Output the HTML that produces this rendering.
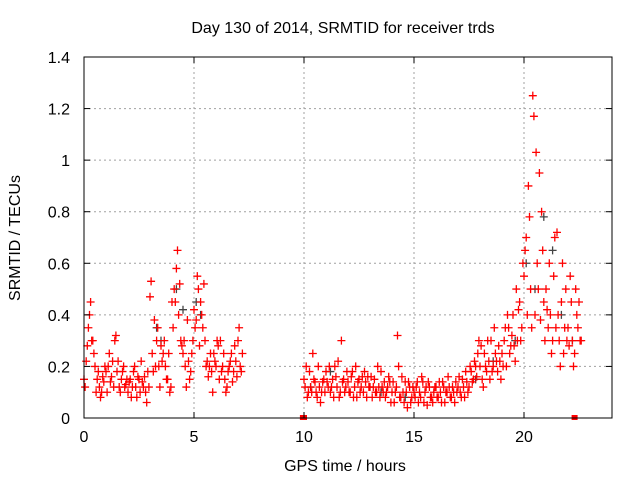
<!DOCTYPE html>
<html><head><meta charset="utf-8"><style>
body{margin:0;background:#fff}
svg{display:block;font-family:"Liberation Sans",sans-serif}
</style></head><body>
<svg id="chart" width="640" height="480">
<rect width="640" height="480" fill="#fff"/>
<text x="343" y="33" font-size="16" text-anchor="middle">Day 130 of 2014, SRMTID for receiver trds</text>
<text x="345" y="471" font-size="16" text-anchor="middle">GPS time / hours</text>
<text transform="translate(20,238) rotate(-90)" font-size="16" text-anchor="middle">SRMTID / TECUs</text>
<g id="grid"></g><g id="marks"></g><g id="axes"></g>
</svg>
<script>
const xTicks=[0,5,10,15,20];
const yTicks=[0,0.2,0.4,0.6,0.8,1,1.2,1.4];
const yTickLabels=["0","0.2","0.4","0.6","0.8","1","1.2","1.4"];
const seg1Start=0.0;
const seg1A=[0.15,0.22,0.35,0.45,0.3,0.2,0.15,0.12,0.1,0.14,0.18,0.2,0.14,0.22,0.3,0.18,0.12,0.15,0.2,0.13,0.1,0.15,0.12,0.2,0.08,0.15,0.22,0.12,0.1,0.18,0.47,0.25,0.38,0.3,0.2,0.28,0.25,0.2,0.15,0.1,0.45,0.5,0.58,0.4,0.3,0.25,0.2,0.38,0.15,0.25,0.42,0.38,0.5,0.45,0.35,0.3,0.22,0.2,0.18,0.25,0.2,0.28,0.3,0.2,0.15,0.12,0.2,0.25,0.18,0.22,0.3,0.2,0.25];
const seg1B=[0.12,0.28,0.4,0.3,0.25,0.1,0.18,0.08,0.16,0.2,0.1,0.25,0.16,0.12,0.32,0.22,0.1,0.18,0.12,0.15,0.14,0.08,0.18,0.12,0.16,0.1,0.14,0.16,0.06,0.12,0.53,0.18,0.2,0.35,0.12,0.22,0.3,0.15,0.25,0.12,0.35,0.45,0.65,0.52,0.28,0.3,0.12,0.22,0.18,0.3,0.35,0.55,0.28,0.4,0.52,0.2,0.16,0.25,0.1,0.22,0.3,0.15,0.18,0.25,0.1,0.18,0.22,0.14,0.28,0.16,0.35,0.18];
const seg2Start=10.0;
const seg2A=[0.15,0.2,0.1,0.12,0.25,0.14,0.08,0.12,0.1,0.15,0.18,0.12,0.1,0.15,0.2,0.12,0.08,0.3,0.15,0.12,0.14,0.1,0.18,0.12,0.08,0.15,0.12,0.1,0.14,0.16,0.12,0.08,0.15,0.1,0.12,0.18,0.1,0.08,0.12,0.14,0.1,0.06,0.12,0.2,0.08,0.1,0.14,0.04,0.12,0.08,0.1,0.12,0.06,0.08,0.14,0.1,0.05,0.12,0.08,0.1,0.12,0.08,0.1,0.14,0.06,0.1,0.12,0.08,0.1,0.14,0.12,0.1,0.15,0.08,0.14,0.12,0.18,0.15,0.2,0.25,0.2,0.15,0.25,0.18,0.22,0.3,0.2,0.25,0.18,0.22,0.25,0.3,0.2,0.35,0.28,0.4,0.22,0.3,0.45,0.35,0.55,0.7,0.9,0.5,1.25,0.4,0.6,0.95,0.8,0.45,0.5,0.35,0.4,0.3,0.7,0.72,0.3,0.45,0.25,0.5,0.35,0.55,0.3,0.25,0.4,0.45,0.3];
const seg2B=[0.12,0.08,0.18,0.1,0.15,0.1,0.2,0.06,0.14,0.1,0.14,0.2,0.12,0.08,0.16,0.22,0.1,0.14,0.1,0.18,0.1,0.16,0.08,0.2,0.14,0.1,0.16,0.18,0.08,0.12,0.16,0.12,0.1,0.2,0.08,0.12,0.14,0.1,0.16,0.06,0.14,0.1,0.32,0.08,0.16,0.06,0.1,0.14,0.06,0.12,0.08,0.14,0.1,0.16,0.06,0.12,0.14,0.08,0.06,0.12,0.08,0.14,0.06,0.12,0.1,0.16,0.08,0.12,0.06,0.1,0.16,0.08,0.12,0.18,0.1,0.2,0.14,0.22,0.16,0.3,0.28,0.12,0.2,0.3,0.15,0.18,0.35,0.22,0.28,0.15,0.2,0.35,0.4,0.25,0.32,0.28,0.5,0.42,0.3,0.6,0.65,0.4,0.78,0.35,1.17,1.03,0.5,0.38,0.65,0.3,0.42,0.6,0.25,0.55,0.35,0.4,0.2,0.6,0.35,0.3,0.28,0.45,0.2,0.5,0.35,0.3];
const grayTimes=[3.3,3.5,4.2,4.5,5.1,5.3,10.3,11.2,13.5,14.6,17.8,18.6,19.6,20.1,20.5,20.9,21.3,21.7,22.2];
const grayValues=[0.35,0.3,0.5,0.42,0.45,0.4,0.12,0.18,0.1,0.08,0.15,0.22,0.3,0.6,0.5,0.78,0.65,0.4,0.3];
const zeroTimes=[9.95,10.0,22.3];

const L=84,R=612,T=57,B=418;
const xs=v=>L+(v/24)*(R-L);
const ys=v=>B-(v/1.4)*(B-T);
const NS="http://www.w3.org/2000/svg";
function mk(tag,attrs,parent){const e=document.createElementNS(NS,tag);for(const k in attrs)e.setAttribute(k,attrs[k]);parent.appendChild(e);return e;}
const grid=document.getElementById('grid'),marks=document.getElementById('marks'),axes=document.getElementById('axes');
xTicks.forEach(t=>{
 if(t>0){const g=mk('line',{x1:xs(t),x2:xs(t),y1:T,y2:B,stroke:'#a0a0a0','stroke-dasharray':'2,3'},grid);
 
 }
 const tl=mk('text',{x:xs(t),y:B+24,'font-size':16,'text-anchor':'middle'},axes);tl.textContent=t;
 
 
 mk('line',{x1:xs(t),x2:xs(t),y1:B,y2:B-6,stroke:'#000'},axes);
 mk('line',{x1:xs(t),x2:xs(t),y1:T,y2:T+6,stroke:'#000'},axes);
});
yTicks.forEach((t,i)=>{
 if(t>0&&t<1.4){const g=mk('line',{x1:L,x2:R,y1:ys(t),y2:ys(t),stroke:'#a0a0a0','stroke-dasharray':'2,3'},grid);
 
 }
 const tl=mk('text',{x:L-14,y:ys(t)+6,'font-size':16,'text-anchor':'end'},axes);tl.textContent=yTickLabels[i];
 
 
 mk('line',{x1:L,x2:L+6,y1:ys(t),y2:ys(t),stroke:'#000'},axes);
 mk('line',{x1:R,x2:R-6,y1:ys(t),y2:ys(t),stroke:'#000'},axes);
});
const frame=mk('rect',{x:L,y:T,width:R-L,height:B-T,fill:'none',stroke:'#000'},axes);


function plus(x,y,c){const p=mk('path',{d:`M${x-4},${y}h8M${x},${y-4}v8`,stroke:c,'stroke-width':1.3,fill:'none'},marks);
 
 }
grayTimes.forEach((t,i)=>plus(xs(t),ys(grayValues[i]),'#444'));
seg1A.forEach((v,i)=>plus(xs(seg1Start+i*0.1),ys(v),'#f00'));
seg1B.forEach((v,i)=>plus(xs(seg1Start+0.05+i*0.1),ys(v),'#f00'));
seg2A.forEach((v,i)=>plus(xs(seg2Start+i*0.1),ys(v),'#f00'));
seg2B.forEach((v,i)=>plus(xs(seg2Start+0.05+i*0.1),ys(v),'#f00'));
zeroTimes.forEach(t=>{const r=mk('rect',{x:xs(t)-3,y:B-3,width:6,height:5,fill:'#f00'},marks);
 
 });
</script>
</body></html>
